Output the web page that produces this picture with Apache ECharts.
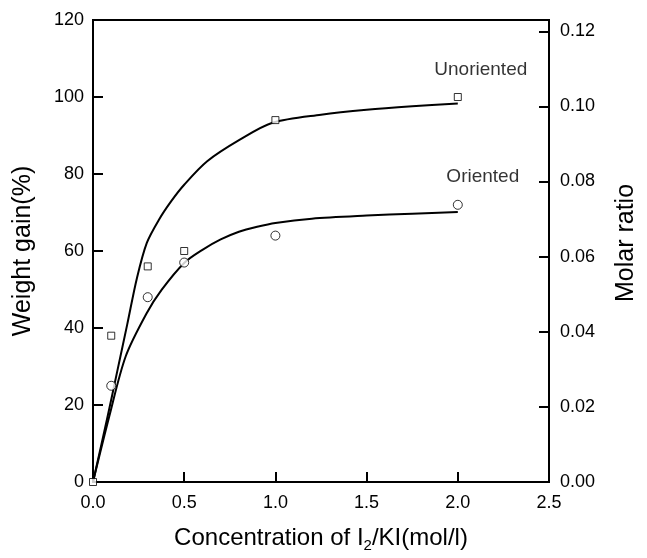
<!DOCTYPE html>
<html>
<head>
<meta charset="utf-8">
<script src="https://cdn.jsdelivr.net/npm/echarts@6/dist/echarts.min.js"></script>
<style>
  html, body { margin: 0; padding: 0; background: #fff; }
  #chart { width: 647px; height: 558px; }
</style>
</head>
<body>
<div id="chart"></div>
<script>
// Measured weight gain, square markers (unoriented film)
const unorientedX = [0, 0.1, 0.3, 0.5, 1.0, 2.0];
const unorientedY = [0, 38, 56, 60, 94, 100];
// Measured weight gain, circle markers (oriented film)
const orientedX = [0.1, 0.3, 0.5, 1.0, 2.0];
const orientedY = [25, 48, 57, 64, 72];

// Fitted trend curves
const unorientedFitX = [0, 0.08, 0.134, 0.188, 0.241, 0.295, 0.36, 0.43, 0.5, 0.626, 0.805, 0.984, 1.25, 1.5, 1.75, 2.0];
const unorientedFitY = [0, 17, 29, 41, 53, 62.1, 68, 73, 77.2, 83.3, 88.9, 93.3, 95.4, 96.7, 97.6, 98.3];
const orientedFitX = [0, 0.089, 0.179, 0.295, 0.376, 0.5, 0.6, 0.7, 0.8, 0.9, 1.0, 1.2, 1.5, 1.75, 2.0];
const orientedFitY = [0, 17, 32.6, 43.9, 49.9, 56.9, 60.3, 63.0, 65.0, 66.3, 67.3, 68.4, 69.2, 69.7, 70.1];

// Axis ranges
const xTicks = [0, 0.5, 1.0, 1.5, 2.0, 2.5];
const weightTicks = [0, 20, 40, 60, 80, 100, 120];
const molarTicks = [0, 0.02, 0.04, 0.06, 0.08, 0.10, 0.12];
const molarMax = 0.123;

const FONT = '"Liberation Sans", Arial, Helvetica, sans-serif';
const zip = (xs, ys) => xs.map((x, i) => [x, ys[i]]);

const unorientedPts = zip(unorientedX, unorientedY);
const orientedPts = zip(orientedX, orientedY);

// Curve names attached to the last point of each data set
unorientedPts[unorientedPts.length - 1] = {
  value: unorientedPts[unorientedPts.length - 1],
  label: { show: true, formatter: 'Unoriented', position: 'inside', offset: [23, -27] }
};
orientedPts[orientedPts.length - 1] = {
  value: orientedPts[orientedPts.length - 1],
  label: { show: true, formatter: 'Oriented', position: 'inside', offset: [25, -28] }
};

const axisLine = { show: true, lineStyle: { color: '#000', width: 2 } };
const axisTick = { show: true, inside: true, length: 10, lineStyle: { color: '#000', width: 2 } };

const chart = echarts.init(document.getElementById('chart'), null, { renderer: 'canvas' });
chart.setOption({
  animation: false,
  backgroundColor: '#fff',
  textStyle: { fontFamily: FONT, color: '#000' },
  grid: {
    left: 93, top: 20, width: 466, height: 462,
    show: true, borderColor: '#000', borderWidth: 2, backgroundColor: 'transparent'
  },
  xAxis: {
    type: 'value',
    min: xTicks[0], max: xTicks[xTicks.length - 1], interval: 0.5,
    axisLine, axisTick,
    splitLine: { show: false },
    axisLabel: { fontSize: 18, color: '#000', fontFamily: FONT, margin: 12,
      formatter: v => v.toFixed(1) },
    name: 'Concentration of I{sub|2}/KI(mol/l)',
    nameLocation: 'middle',
    nameGap: 41,
    nameTextStyle: {
      fontSize: 24, color: '#000', fontFamily: FONT,
      rich: { sub: { fontSize: 15, fontFamily: FONT, color: '#000', verticalAlign: 'bottom', lineHeight: 30 } }
    }
  },
  yAxis: [
    {
      type: 'value',
      min: weightTicks[0], max: weightTicks[weightTicks.length - 1], interval: 20,
      position: 'left',
      axisLine, axisTick,
      splitLine: { show: false },
      axisLabel: { fontSize: 18, color: '#000', fontFamily: FONT, margin: 9 },
      name: 'Weight gain(%)',
      nameLocation: 'middle',
      nameGap: 57,
      nameTextStyle: { fontSize: 25, color: '#000', fontFamily: FONT }
    },
    {
      type: 'value',
      min: molarTicks[0], max: molarMax, interval: 0.02,
      position: 'right',
      axisLine, axisTick,
      splitLine: { show: false },
      axisLabel: { fontSize: 18, color: '#000', fontFamily: FONT, margin: 11,
        formatter: v => (v > molarTicks[molarTicks.length - 1] + 1e-6 ? '' : v.toFixed(2)) },
      name: 'Molar ratio',
      nameLocation: 'middle',
      nameGap: 65,
      nameTextStyle: { fontSize: 25, color: '#000', fontFamily: FONT, padding: [0, 0, 0, 16] }
    }
  ],
  series: [
    {
      type: 'line', name: 'Unoriented fit',
      data: zip(unorientedFitX, unorientedFitY),
      showSymbol: false, smooth: 0.3,
      lineStyle: { color: '#000', width: 2 }, z: 2
    },
    {
      type: 'line', name: 'Oriented fit',
      data: zip(orientedFitX, orientedFitY),
      showSymbol: false, smooth: 0.3,
      lineStyle: { color: '#000', width: 2 }, z: 2
    },
    {
      type: 'scatter', name: 'Unoriented',
      data: unorientedPts,
      symbol: 'rect', symbolSize: 7,
      itemStyle: { color: '#fff', borderColor: '#000', borderWidth: 1 },
      label: { fontSize: 19, color: '#000', fontFamily: FONT },
      z: 3
    },
    {
      type: 'scatter', name: 'Oriented',
      data: orientedPts,
      symbol: 'circle', symbolSize: 9,
      itemStyle: { color: '#fff', borderColor: '#000', borderWidth: 1 },
      label: { fontSize: 19, color: '#000', fontFamily: FONT },
      z: 3
    }
  ]
});
</script>
</body>
</html>
